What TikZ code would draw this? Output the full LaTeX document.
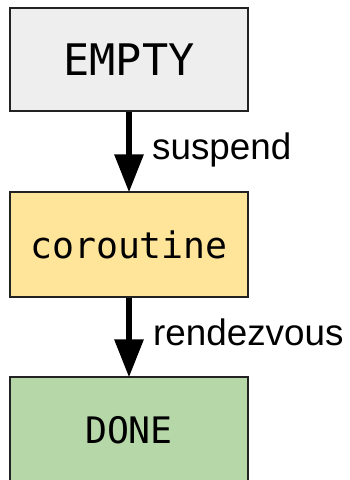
\documentclass[tikz,border=0pt]{standalone}
\usepackage{fontspec}
\setmainfont{Liberation Sans}
\setmonofont{DejaVu Sans Mono}
\usetikzlibrary{arrows.meta,positioning}

\definecolor{emptygray}{HTML}{EEEEEE}
\definecolor{coyellow}{HTML}{FFE599}
\definecolor{donegreen}{HTML}{B6D7A8}
\definecolor{edgegray}{HTML}{222222}

\begin{document}
\begin{tikzpicture}[x=1pt, y=-1pt, >={Triangle[length=38pt, width=28pt]}, line join=miter,
  statebox/.style={draw=edgegray, line width=1.2pt, minimum width=238pt, inner sep=0pt, font=\ttfamily\fontsize{36.5}{40}\selectfont},
  edgelabel/.style={anchor=base west, inner sep=0pt, font=\fontsize{36.8}{40}\selectfont},
  flow/.style={->, line width=6pt, black, shorten >=-1pt}]
  % 画布范围
  \useasboundingbox (0,0) rectangle (349,480);
  \clip (0,0) rectangle (349,480);

  % 三个状态
  \node[statebox, fill=emptygray, minimum height=103pt, font=\ttfamily\fontsize{43.5}{46}\selectfont] (empty) at (129,59.5) {EMPTY};
  \node[statebox, fill=coyellow, minimum height=105pt] (coroutine) at (129,244.5) {coroutine};
  \node[statebox, fill=donegreen, minimum height=106pt] (done) at (129,430) {DONE};

  % 状态之间的箭头
  \draw[flow] (empty.south) -- (coroutine.north);
  \draw[flow] (coroutine.south) -- (done.north);

  % 箭头标签
  \node[edgelabel] (suspendlbl) at (152,159) {suspend};
  \node[edgelabel] (rendezvouslbl) at (153,345) {rendezvous};
\end{tikzpicture}
\end{document}
